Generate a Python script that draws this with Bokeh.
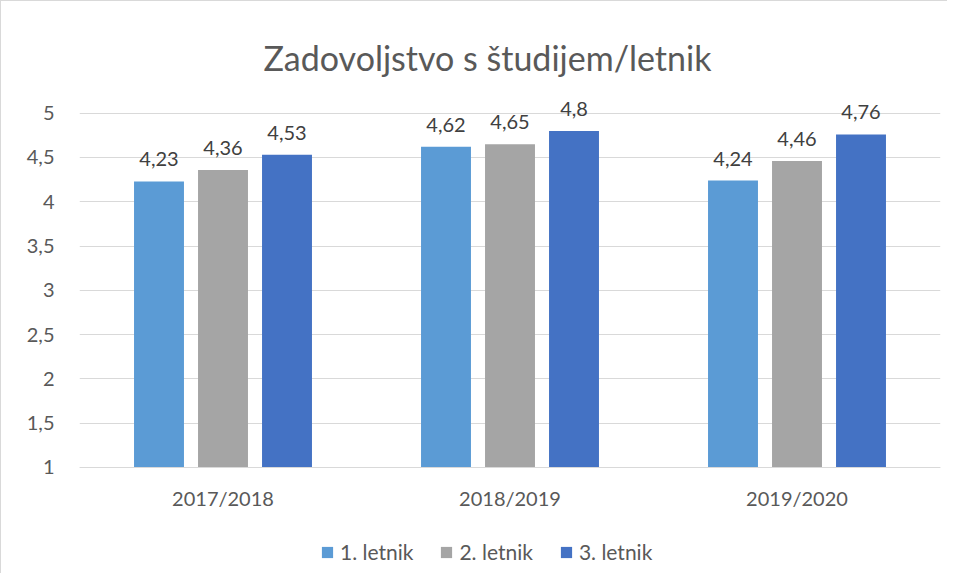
from bokeh.plotting import figure
from bokeh.models import ColumnDataSource, Range1d, FactorRange, FixedTicker, Legend, LegendItem
from bokeh.transform import dodge
from bokeh.embed import file_html
from bokeh.resources import INLINE
from bokeh.core.properties import value

years = ["2017/2018", "2018/2019", "2019/2020"]
series_names = ["1. letnik", "2. letnik", "3. letnik"]
letnik1 = [4.23, 4.62, 4.24]
letnik2 = [4.36, 4.65, 4.46]
letnik3 = [4.53, 4.80, 4.76]
y_ticks = [1, 1.5, 2, 2.5, 3, 3.5, 4, 4.5, 5]
y_tick_labels = ["1", "1,5", "2", "2,5", "3", "3,5", "4", "4,5", "5"]
colors = ["#5B9BD5", "#A5A5A5", "#4472C4"]

FONT = "Lato"
TXT = "#595959"

def fmt(v):
    return ("%g" % v).replace(".", ",")

src = ColumnDataSource(dict(
    year=years,
    s1=letnik1, s2=letnik2, s3=letnik3,
    l1=[fmt(v) for v in letnik1],
    l2=[fmt(v) for v in letnik2],
    l3=[fmt(v) for v in letnik3],
))

p = figure(width=947, height=573, x_range=FactorRange(*years, range_padding=0),
           y_range=Range1d(-0.1525, 5.2), output_backend="svg", toolbar_location=None,
           min_border_left=78, min_border_right=8, min_border_top=94, min_border_bottom=5)
p.styles = {"border-top": "1px solid #d9d9d9", "border-left": "1px solid #d9d9d9"}

p.title.text = "Zadovoljstvo s študijem/letnik"
p.title.align = "left"
p.title.offset = 184
p.title.text_font = FONT
p.title.text_font_size = "34px"
p.title.text_font_style = "normal"
p.title.text_color = TXT
p.title.standoff = 36

offsets = [-0.223, 0.0, 0.223]
bw = 0.174
items = []
for i, (col, lab) in enumerate([("s1", "l1"), ("s2", "l2"), ("s3", "l3")]):
    r = p.vbar(x=dodge("year", offsets[i], range=p.x_range), top=col, bottom=1, width=bw,
               source=src, fill_color=colors[i], line_color=None)
    p.text(x=dodge("year", offsets[i], range=p.x_range), y=col, text=lab, source=src,
           text_align="center", text_baseline="bottom", y_offset=-15,
           text_font=value(FONT), text_font_size="20px", text_color="#404040")
    items.append(LegendItem(label=series_names[i], renderers=[r]))

legend = Legend(items=items, orientation="horizontal", location=(241, 5),
                glyph_width=14, glyph_height=14, label_standoff=6, spacing=26,
                padding=0, margin=0, border_line_color=None, background_fill_alpha=0,
                label_text_font=FONT, label_text_font_size="21px", label_text_color=TXT)
p.add_layout(legend, "center")

p.yaxis.ticker = FixedTicker(ticks=y_ticks)
p.yaxis.major_label_overrides = {k: v for k, v in zip(y_ticks, y_tick_labels)}
p.yaxis.axis_line_color = None
p.yaxis.major_tick_line_color = None
p.yaxis.minor_tick_line_color = None
p.yaxis.major_label_standoff = 19
p.yaxis.major_label_text_font = FONT
p.yaxis.major_label_text_font_size = "20px"
p.yaxis.major_label_text_color = TXT

p.xaxis.fixed_location = 1
p.xaxis.axis_line_color = "#d9d9d9"
p.xaxis.major_tick_line_color = None
p.xaxis.minor_tick_line_color = None
p.xaxis.major_label_standoff = 13
p.xaxis.major_label_text_font = FONT
p.xaxis.major_label_text_font_size = "20px"
p.xaxis.major_label_text_color = TXT

p.xgrid.grid_line_color = None
p.ygrid.grid_line_color = "#d9d9d9"
p.ygrid.ticker = FixedTicker(ticks=y_ticks)
p.outline_line_color = None

open("out.html", "w").write(file_html(p, INLINE))
